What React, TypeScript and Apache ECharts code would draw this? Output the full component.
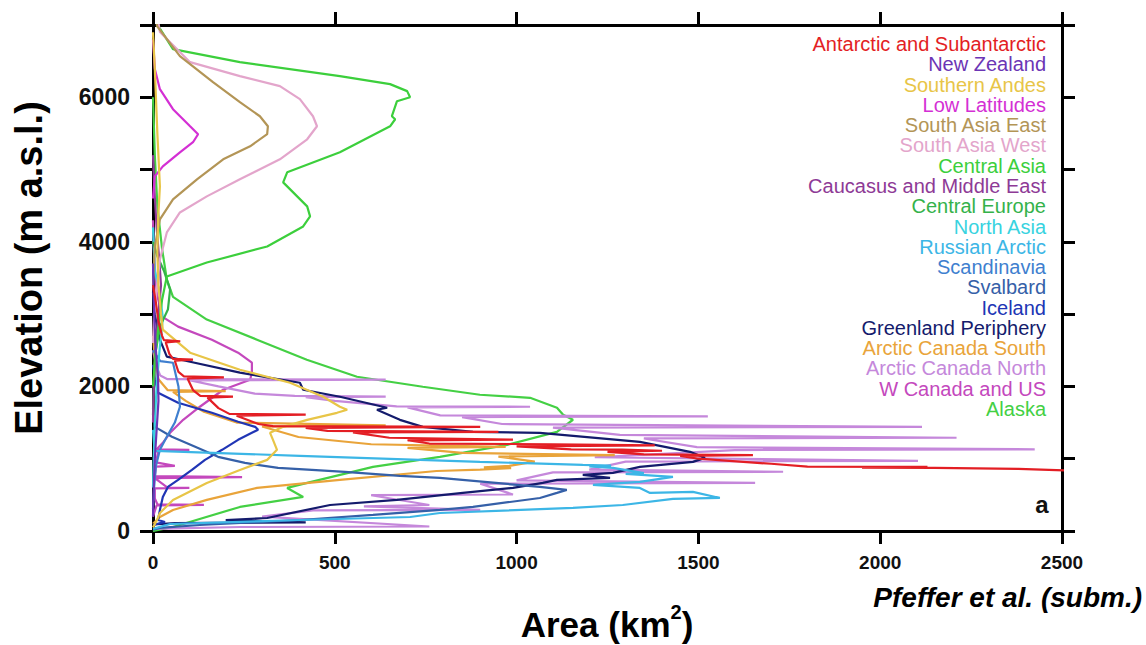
import { useEffect, useRef } from "react";
import * as echarts from "echarts";

// ---------- tick labels / ranges ----------
const AREA_MAX = 2500;
const AREA_STEP = 500;
const ELEV_MAX = 7000;
const ELEV_STEP = 1000;
const ELEV_LABELS = [0, 2000, 4000, 6000];

// ---------- series: [area km2, elevation m] ----------
const alaska = [[0,6000],[5,5200],[12,4500],[25,3900],[38,3480],[55,3240],[148,2925],[286,2647],[423,2370],[561,2134],[742,1996],[899,1885],[1037,1843],[1111,1705],[1128,1608],[1155,1539],[1111,1372],[974,1192],[789,1026],[605,887],[424,665],[369,596],[413,471],[239,333],[55,55],[0,0]];
const wCanadaUS = [[0,4300],[3,3800],[10,3300],[25,2966],[69,2827],[162,2647],[234,2467],[272,2328],[272,2190],[267,2093],[193,1954],[129,1719],[83,1538],[47,1358],[27,1220],[10,1130],[100,1123],[10,1115],[14,1081],[8,950],[60,900],[8,890],[5,760],[245,745],[5,730],[40,600],[100,596],[5,590],[5,450],[12,370],[140,362],[10,355],[0,200]];
const arcticCanadaNorth = [[0,2500],[8,2300],[20,2150],[40,2100],[640,2093],[100,2085],[180,2000],[280,1900],[390,1870],[640,1860],[420,1850],[500,1800],[670,1725],[1037,1719],[700,1710],[790,1600],[1526,1585],[850,1575],[960,1480],[2115,1440],[1100,1430],[1284,1330],[2210,1290],[1350,1280],[1496,1160],[2425,1130],[1600,1120],[1215,1020],[2104,970],[1300,960],[1200,850],[1733,820],[1100,810],[1000,700],[1656,665],[900,655],[990,505],[600,495],[760,360],[580,340],[900,291],[440,285],[300,200],[760,62],[240,55],[0,30]];
const arcticCanadaSouth = [[0,2700],[5,2400],[15,2100],[40,1950],[200,1935],[55,1925],[90,1800],[140,1650],[230,1500],[640,1460],[300,1445],[400,1300],[600,1200],[970,1165],[700,1150],[850,1080],[1270,1050],[950,1030],[1050,960],[980,900],[910,880],[985,870],[900,850],[780,830],[514,707],[286,596],[148,430],[55,291],[19,194],[0,100]];
const greenland = [[0,3300],[5,3000],[12,2800],[19,2647],[38,2412],[102,2342],[239,2190],[404,2051],[413,1954],[514,1857],[644,1705],[616,1677],[679,1538],[742,1441],[880,1372],[1064,1358],[1339,1234],[1477,1095],[1518,1012],[1485,956],[1339,887],[1265,804],[1182,776],[1257,735],[1111,707],[1072,665],[990,596],[852,527],[671,430],[487,360],[314,180],[200,150],[420,118],[60,110],[0,90]];
const iceland = [[0,2300],[5,2100],[14,1913],[69,1774],[162,1635],[234,1511],[281,1441],[289,1400],[272,1358],[234,1261],[190,1123],[143,984],[107,845],[69,707],[41,610],[27,471],[19,291],[14,152],[33,125],[20,110],[0,80]];
const svalbard = [[0,1700],[5,1441],[52,1303],[116,1164],[179,1026],[253,942],[344,873],[437,845],[528,818],[679,762],[789,735],[1064,610],[1138,568],[1111,527],[1064,457],[880,333],[789,291],[605,222],[404,152],[129,83],[19,42],[0,20]];
const scandinavia = [[0,2500],[20,2350],[55,2328],[70,2000],[74,1719],[60,1500],[38,1303],[19,1123],[8,900],[3,600],[0,300]];
const russianArctic = [[0,1400],[3,1200],[5,1109],[404,1040],[899,956],[1182,915],[1260,905],[1200,895],[1265,873],[1350,800],[1300,790],[1430,748],[1339,679],[1210,638],[1339,596],[1367,527],[1485,541],[1559,457],[1430,444],[1292,360],[1155,319],[789,249],[707,194],[404,152],[47,97],[0,30]];
const northAsia = [[0,4200],[5,3600],[20,3250],[27,2950],[18,2500],[10,2000],[5,1500],[2,1000],[0,600]];
const centralEurope = [[0,4000],[12,3800],[30,3600],[47,3340],[41,3063],[19,2827],[8,2500],[2,2000],[0,1600]];
const caucasus = [[0,5200],[4,4700],[10,4200],[18,3700],[22,3400],[15,3000],[6,2500],[2,2000],[0,1500]];
const centralAsia = [[0,7100],[55,6667],[239,6486],[514,6292],[652,6182],[699,6085],[707,6001],[671,5946],[657,5738],[666,5696],[652,5599],[514,5239],[369,4962],[358,4823],[424,4491],[432,4352],[413,4213],[314,3936],[148,3714],[38,3520],[25,3200],[14,2786],[5,2370],[0,2000]];
const southAsiaWest = [[10,7200],[19,6902],[102,6486],[239,6292],[349,6154],[404,5974],[440,5738],[451,5599],[424,5419],[349,5142],[239,4865],[148,4629],[74,4407],[38,4130],[19,3756],[11,3382],[3,3000],[0,2600]];
const southAsiaEast = [[8,7200],[11,6985],[74,6570],[165,6209],[239,5932],[294,5738],[316,5599],[314,5489],[267,5322],[193,5142],[121,4865],[55,4588],[19,4310],[5,3936],[0,3400]];
const lowLatitudes = [[0,6800],[5,6390],[19,6112],[55,5835],[102,5599],[124,5489],[110,5378],[74,5239],[27,5045],[5,4906],[0,4600]];
const southernAndes = [[0,6900],[5,6390],[12,5500],[19,4768],[14,4310],[12,3850],[15,3400],[22,3000],[27,2786],[102,2467],[239,2231],[377,2051],[468,1857],[514,1719],[534,1677],[506,1635],[424,1538],[358,1441],[322,1358],[330,1261],[341,1123],[314,984],[239,845],[148,665],[55,430],[19,249],[11,152],[0,50]];
const newZealand = [[0,3700],[3,3000],[8,2500],[14,2100],[15,1800],[10,1400],[5,1000],[2,600],[0,200]];
const antarctic = [[0,3400],[8,3160],[15,2900],[25,2700],[30,2640],[75,2625],[35,2610],[45,2450],[55,2380],[110,2370],[60,2355],[70,2200],[85,2140],[195,2125],[95,2110],[110,1950],[130,1870],[220,1860],[150,1845],[180,1700],[210,1620],[420,1610],[230,1595],[290,1480],[330,1450],[900,1440],[420,1425],[480,1385],[950,1372],[550,1365],[650,1290],[990,1265],[700,1255],[760,1210],[1100,1200],[1380,1185],[1000,1170],[1150,1130],[1290,1125],[1400,1110],[1250,1095],[1350,1060],[1650,1050],[1450,1040],[1500,1000],[1700,930],[1800,890],[2130,887],[1950,878],[2150,872],[2380,860],[2550,830],[3500,600],[4000,300],[3500,50]];

// region names (legend top to bottom) with colours
const REGIONS = [
  { name: "Antarctic and Subantarctic", color: "#e31e24", data: antarctic },
  { name: "New Zealand", color: "#6b35b5", data: newZealand },
  { name: "Southern Andes", color: "#e8c547", data: southernAndes },
  { name: "Low Latitudes", color: "#d42fd4", data: lowLatitudes },
  { name: "South Asia East", color: "#b39556", data: southAsiaEast },
  { name: "South Asia West", color: "#e3a5cb", data: southAsiaWest },
  { name: "Central Asia", color: "#3ccf3c", data: centralAsia },
  { name: "Caucasus and Middle East", color: "#8e3a96", data: caucasus },
  { name: "Central Europe", color: "#34b24a", data: centralEurope },
  { name: "North Asia", color: "#38d3df", data: northAsia },
  { name: "Russian Arctic", color: "#3cb6e6", data: russianArctic },
  { name: "Scandinavia", color: "#3f7fcf", data: scandinavia },
  { name: "Svalbard", color: "#3560a8", data: svalbard },
  { name: "Iceland", color: "#2035b5", data: iceland },
  { name: "Greenland Periphery", color: "#141b6c", data: greenland },
  { name: "Arctic Canada South", color: "#e9a43a", data: arcticCanadaSouth },
  { name: "Arctic Canada North", color: "#c588db", data: arcticCanadaNorth },
  { name: "W Canada and US", color: "#c448bd", data: wCanadaUS },
  { name: "Alaska", color: "#44d044", data: alaska },
];

const FONT = "'Liberation Sans', Arial, Helvetica, sans-serif";

export default function App() {
  const ref = useRef<HTMLDivElement>(null);
  useEffect(() => {
    if (!ref.current) return;
    const chart = echarts.init(ref.current, null, { renderer: "svg" });
    const axisLine = { show: true, onZero: false, lineStyle: { color: "#000", width: 3 } };
    const axisTick = { show: true, inside: false, length: 13, lineStyle: { color: "#000", width: 3 } };
    const series = [...REGIONS].reverse().map((r) => ({
      name: r.name,
      type: "line",
      data: r.data,
      symbol: "none",
      clip: true,
      lineStyle: { color: r.color, width: 2.2 },
      itemStyle: { color: r.color },
    }));
    const legendTexts = REGIONS.map((r, i) => ({
      type: "text",
      right: 1146 - 1046,
      top: 45 + i * 20.28 - 11,
      style: { text: r.name, fill: r.color, font: `20px ${FONT}`, textAlign: "right" },
    }));
    chart.setOption({
      animation: false,
      backgroundColor: "#fff",
      grid: { left: 153, top: 25, width: 909, height: 506 },
      xAxis: [
        { type: "value", min: 0, max: AREA_MAX, interval: AREA_STEP, position: "bottom", axisLine, axisTick,
          axisLabel: { margin: 22, fontSize: 19, fontWeight: "bold", color: "#111", fontFamily: FONT,
            formatter: (v: number) => String(v) },
          splitLine: { show: false } },
        { type: "value", min: 0, max: AREA_MAX, interval: AREA_STEP, position: "top", axisLine, axisTick,
          axisLabel: { show: false }, splitLine: { show: false } },
      ],
      yAxis: [
        { type: "value", min: 0, max: ELEV_MAX, interval: ELEV_STEP, position: "left", axisLine, axisTick,
          axisLabel: { margin: 23, fontSize: 23, fontWeight: "bold", color: "#111", fontFamily: FONT,
            formatter: (v: number) => (ELEV_LABELS.includes(v) ? String(v) : "") },
          splitLine: { show: false } },
        { type: "value", min: 0, max: ELEV_MAX, interval: ELEV_STEP, position: "right", axisLine, axisTick,
          axisLabel: { show: false }, splitLine: { show: false } },
      ],
      series,
      graphic: [
        ...legendTexts,
        { type: "text", x: 1042, y: 504,
          style: { text: "a", font: `bold 24px ${FONT}`, fill: "#111", textAlign: "center", textVerticalAlign: "middle" } },
        { type: "text", x: 1142, y: 597,
          style: { text: "Pfeffer et al. (subm.)", font: `italic bold 28px ${FONT}`, fill: "#000", textAlign: "right", textVerticalAlign: "middle" } },
        { type: "text", x: 29, y: 268, rotation: Math.PI / 2,
          style: { text: "Elevation (m a.s.l.)", font: `bold 38px ${FONT}`, fill: "#000", textAlign: "center", textVerticalAlign: "middle" } },
        { type: "text", x: 607, y: 622,
          style: {
            text: "{a|Area (km}{s|2}{a|)}",
            textAlign: "center", textVerticalAlign: "middle",
            rich: {
              a: { font: `bold 35px ${FONT}`, fill: "#000", lineHeight: 40, verticalAlign: "bottom" },
              s: { font: `bold 20px ${FONT}`, fill: "#000", lineHeight: 40, verticalAlign: "top" },
            },
          } },
      ],
    });
    return () => chart.dispose();
  }, []);
  return (
    <div
      ref={ref}
      style={{ position: "fixed", left: 0, top: 0, width: 1146, height: 645, background: "#fff" }}
    />
  );
}
